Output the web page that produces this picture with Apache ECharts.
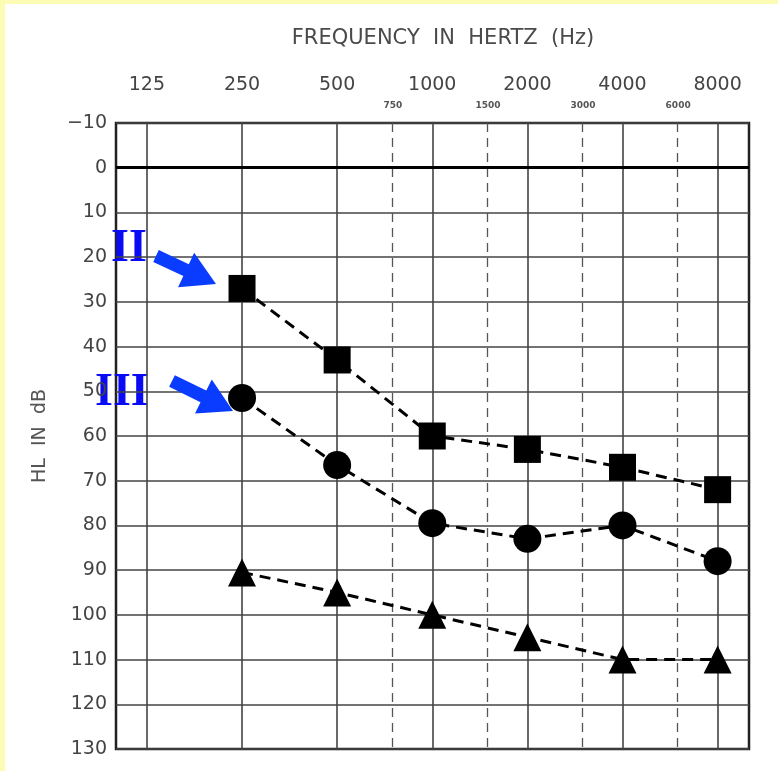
<!DOCTYPE html>
<html>
<head>
<meta charset="utf-8">
<script src="https://cdn.jsdelivr.net/npm/echarts@6/dist/echarts.min.js"></script>
<style>
html, body { margin: 0; padding: 0; background: #ffffff; }
#main { width: 778px; height: 771px; }
</style>
</head>
<body>
<div id="main"></div>
<script>
// 频率 (Hz) 和三条听力曲线 (dB HL)
var freqs = [125, 250, 500, 1000, 2000, 4000, 8000];
var midFreqs = [750, 1500, 3000, 6000];
var curveFreqs = [250, 500, 1000, 2000, 4000, 8000];
var squareVals = [27, 43, 60, 63, 67, 72];     // II
var circleVals = [51.5, 66.5, 79.5, 83, 80, 88]; // III
var triangleVals = [90.5, 95, 100, 105, 110, 110];

var yMin = -10, yMax = 130, yStep = 10;

// 频率 -> 倍频程位置 (125 Hz = 0)
function oct(f) { return Math.log(f / 125) / Math.LN2; }

function pairs(vals) {
	return curveFreqs.map(function(f, i) { return [oct(f), vals[i]]; });
}

// 箭头多边形
function arrow(x1, y1, x2, y2) {
	var dx = x2 - x1, dy = y2 - y1, len = Math.sqrt(dx * dx + dy * dy);
	var ux = dx / len, uy = dy / len, nx = -uy, ny = ux;
	var sw = 6.5, hw = 19, hl = 33;
	var bx = x2 - ux * hl, by = y2 - uy * hl;
	return [
		[x1 + nx * sw, y1 + ny * sw], [bx + nx * sw, by + ny * sw], [bx + nx * hw, by + ny * hw],
		[x2, y2],
		[bx - nx * hw, by - ny * hw], [bx - nx * sw, by - ny * sw], [x1 - nx * sw, y1 - ny * sw]
	];
}

var font = 'DejaVu Sans';
var lineDash = { color: '#000', width: 3, type: [11, 7] };

var vLines = freqs.map(function(f) {
	return { xAxis: oct(f), lineStyle: { color: '#444', width: 1.6, type: 'solid' } };
}).concat(midFreqs.map(function(f) {
	return { xAxis: oct(f), lineStyle: { color: '#555', width: 1.3, type: [9, 6] } };
}));
vLines.push({ yAxis: 0, lineStyle: { color: '#000', width: 3, type: 'solid' } });

var myChart = echarts.init(document.getElementById('main'));

var option = {
	backgroundColor: '#fdfcb4',
	animation: false,
	graphic: [
		{ type: 'rect', shape: { x: 5, y: 4, width: 773, height: 767 }, style: { fill: '#fff' }, z: -10 },
		{ type: 'text', left: 111, top: 226, style: { text: 'II', font: 'bold 46px "Liberation Serif"', fill: '#0a0af5' } },
		{ type: 'text', left: 95, top: 370, style: { text: 'III', font: 'bold 46px "Liberation Serif"', fill: '#0a0af5' } },
		{ type: 'polygon', shape: { points: arrow(156, 256, 216, 284) }, style: { fill: '#0a3cff' }, z: 10 },
		{ type: 'polygon', shape: { points: arrow(172, 381, 233, 411) }, style: { fill: '#0a3cff' }, z: 10 }
	],
	title: {
		text: 'FREQUENCY  IN  HERTZ  (Hz)',
		left: 438, top: 23, textAlign: 'center',
		textStyle: { fontFamily: font, fontSize: 21, fontWeight: 'normal', color: '#4a4a4a' }
	},
	grid: {
		left: 116, top: 123, right: 29, bottom: 22,
		show: true, borderColor: '#222', borderWidth: 2.5, backgroundColor: 'transparent'
	},
	xAxis: [{
		type: 'value', position: 'top', min: oct(125) - 0.325, max: oct(8000) + 0.33,
		axisLine: { show: false }, axisTick: { show: false }, splitLine: { show: false },
		axisLabel: {
			customValues: freqs.map(oct), margin: 28,
			formatter: function(v) { return String(Math.round(125 * Math.pow(2, v))); },
			fontFamily: font, fontSize: 19, color: '#444'
		}
	}, {
		type: 'value', position: 'top', min: oct(125) - 0.325, max: oct(8000) + 0.33,
		axisLine: { show: false }, axisTick: { show: false }, splitLine: { show: false },
		axisLabel: {
			customValues: midFreqs.map(oct), margin: 13,
			formatter: function(v) { return String(Math.round(125 * Math.pow(2, v))); },
			fontFamily: font, fontSize: 9, fontWeight: 'bold', color: '#555'
		}
	}],
	yAxis: {
		type: 'value', inverse: true, min: yMin, max: yMax, interval: yStep,
		name: 'HL  IN  dB', nameLocation: 'middle', nameGap: 66, nameRotate: 90,
		nameTextStyle: { fontFamily: font, fontSize: 19, color: '#555' },
		axisLine: { show: false }, axisTick: { show: false },
		axisLabel: {
			margin: 9, fontFamily: font, fontSize: 19, color: '#444',
			formatter: function(v) { return v < 0 ? '\u2212' + (-v) : String(v); }
		},
		splitLine: { lineStyle: { color: '#444', width: 1.6 } }
	},
	series: [{
		name: 'grid', type: 'line', data: [], silent: true,
		markLine: { silent: true, symbol: 'none', label: { show: false }, data: vLines, z: 1 }
	}, {
		name: 'II', type: 'line', data: pairs(squareVals), symbol: 'rect', symbolSize: 27,
		itemStyle: { color: '#000' }, lineStyle: lineDash, z: 5
	}, {
		name: 'III', type: 'line', data: pairs(circleVals), symbol: 'circle', symbolSize: 28,
		itemStyle: { color: '#000' }, lineStyle: lineDash, z: 5
	}, {
		name: 'triangle', type: 'line', data: pairs(triangleVals), symbol: 'triangle', symbolSize: 28,
		itemStyle: { color: '#000' }, lineStyle: lineDash, z: 5
	}]
};

myChart.setOption(option);
</script>
</body>
</html>
